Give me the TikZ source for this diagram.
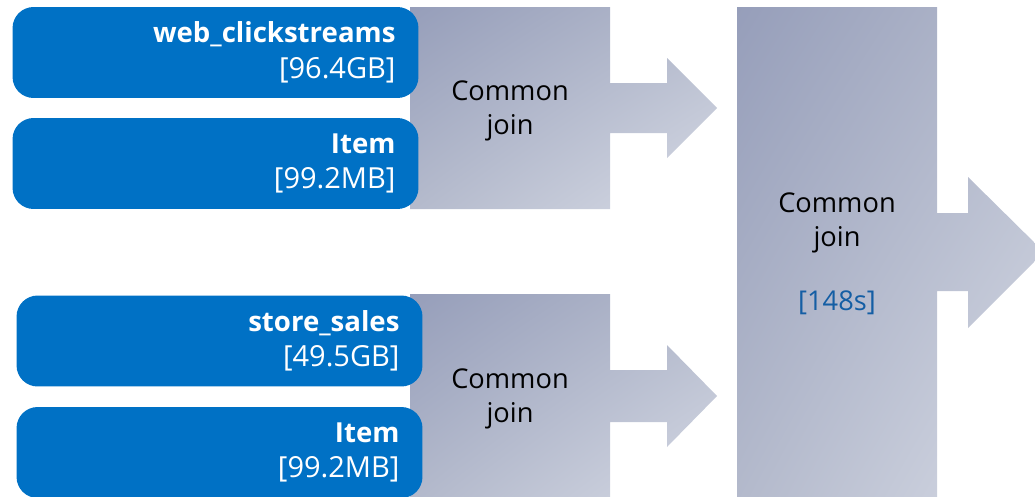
\documentclass[tikz,border=0pt]{standalone}
\usepackage{fontspec}
\setmainfont{Open Sans}
\usepackage{tikz}
\usetikzlibrary{positioning}
\usetikzlibrary{shadings}
\definecolor{TableBlue}{RGB}{0,113,197}
\definecolor{JoinDark}{RGB}{150,158,186}
\definecolor{JoinMid}{RGB}{180,186,204}
\definecolor{JoinLight}{RGB}{214,218,229}
\definecolor{TimeBlue}{RGB}{20,94,164}
\newcommand{\tabname}[1]{{\fontsize{15.7}{19.9}\selectfont\bfseries #1}}

\tikzset{
	table/.style={rectangle, rounded corners=12pt, fill=TableBlue, text=white,
		minimum width=8.1cm, minimum height=1.82cm, text width=7.2cm,
		inner xsep=0.46cm, align=right, font=\fontsize{16.5}{20.2}\selectfont},
	joinlabel/.style={align=center, font=\fontsize{15.5}{19.4}\selectfont},
	joinshade/.style={upper left=JoinDark, upper right=JoinMid, lower left=JoinMid, lower right=JoinLight}
}

\begin{document}
\begin{tikzpicture}[x=0.02cm, y=-0.02cm]
		\useasboundingbox (0,0) rectangle (1035,497);
		\clip (0,0) rectangle (1035,497);
		
		% join blocks with their block arrows
		\shade [joinshade] (410,7) -- (610,7) -- (610,83) -- (667,83) -- (667,58) -- (717,108)
			-- (667,158) -- (667,133) -- (610,133) -- (610,209) -- (410,209) -- cycle;
		\shade [joinshade] (410,294) -- (610,294) -- (610,370) -- (667,370) -- (667,345) -- (717,396)
			-- (667,447) -- (667,422) -- (610,422) -- (610,510) -- (410,510) -- cycle;
		\shade [joinshade] (737,7) -- (937,7) -- (937,213) -- (968,213) -- (968,177) -- (1044,252)
			-- (968,328) -- (968,291) -- (937,291) -- (937,510) -- (737,510) -- cycle;
		
		\node [table] (web) at (215.5,52.5) {\tabname{web\_clickstreams}\\{[96.4GB]}};
		\node [table] (item1) at (215.5,163.5) {\tabname{Item}\\{[99.2MB]}};
		\node [table] (store) at (219.5,341) {\tabname{store\_sales}\\{[49.5GB]}};
		\node [table] (item2) at (219.5,452.5) {\tabname{Item}\\{[99.2MB]}};
		
		\node [joinlabel] (join1) at (510,111) {Common\\join};
		\node [joinlabel] (join2) at (510,398.5) {Common\\join};
		\node [joinlabel] (join3) at (837,254) {Common\\join\\[0.6cm]\textcolor{TimeBlue}{[148s]}};
	\end{tikzpicture}
\end{document}
